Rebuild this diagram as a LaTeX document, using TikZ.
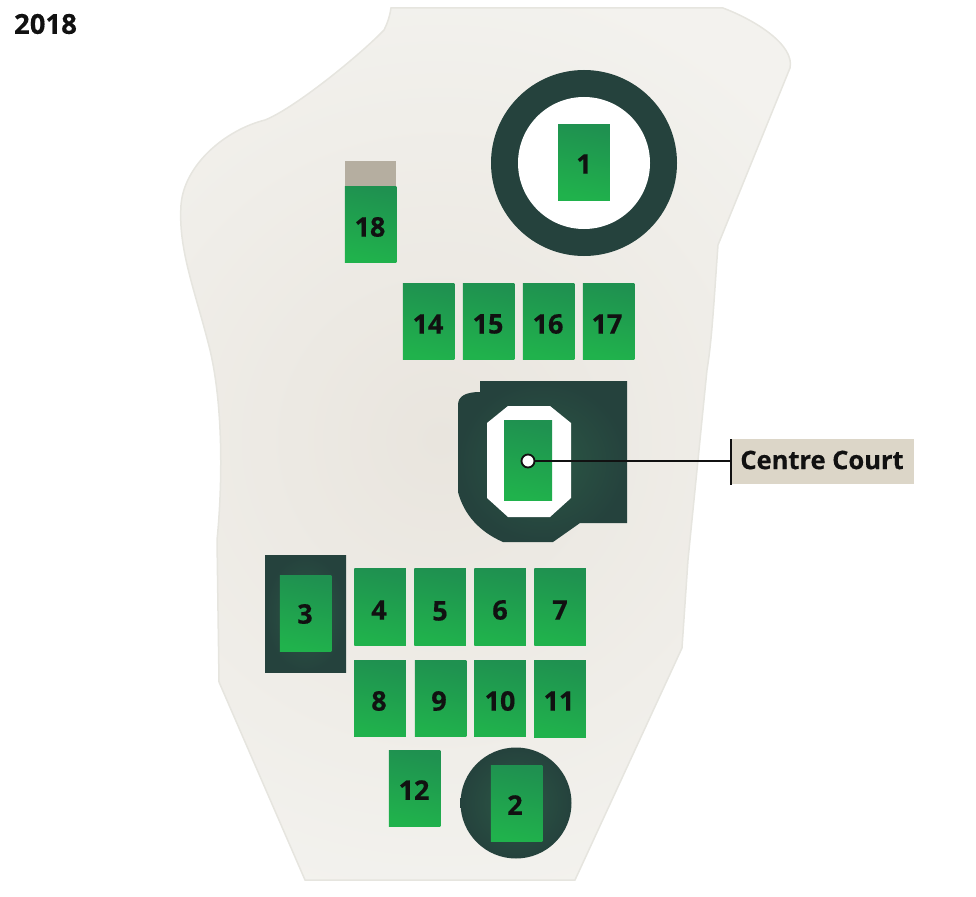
\documentclass[tikz,border=0pt]{standalone}
\usepackage{fontspec}
\setmainfont{Open Sans}[BoldFeatures={FakeBold=0.35}]
\definecolor{landin}{HTML}{E9E5DE}
\definecolor{landout}{HTML}{F3F2EE}
\definecolor{landedge}{HTML}{E6E5DF}
\definecolor{grassd}{HTML}{1F9150}
\definecolor{grassm}{HTML}{1F9E4E}
\definecolor{grassl}{HTML}{20B24C}
\definecolor{darkout}{HTML}{25423D}
\definecolor{darkin}{HTML}{2B5845}
\definecolor{sandcol}{HTML}{DCD6C8}
\definecolor{greycol}{HTML}{B5AEA0}
\definecolor{inkcol}{HTML}{111111}
\tikzset{
  x=1pt,y=-1pt,
  courtbox/.style={draw=none,inner sep=0pt,outer sep=0pt,minimum width=51.5pt,minimum height=76.5pt,
    fill=grassm,shade,top color=grassd,middle color=grassm,bottom color=grassl,shading angle=-12},
  numlab/.style={font=\bfseries\fontsize{27}{27}\selectfont,text=inkcol,inner sep=0pt},
  darkfill/.style={inner color=darkin,outer color=darkout},
  leader/.style={draw=inkcol,line width=2pt},
}
\begin{document}
\begin{tikzpicture}
\useasboundingbox (0,0) rectangle (976,896);
\def\landpath{(391,8) -- (723,8)
  .. controls (755,20) and (795,45) .. (790,68)
  -- (718,245)
  .. controls (714,300) and (712,340) .. (707,370)
  -- (688,560) -- (682,648)
  -- (575,880) -- (305,880) -- (219,682) -- (217,540)
  .. controls (222,490) and (224,410) .. (210,350)
  .. controls (195,290) and (178,250) .. (181,205)
  .. controls (184,165) and (225,130) .. (265,120)
  .. controls (295,108) and (360,55) .. (384,30)
  .. controls (388,22) and (390,15) .. (391,8) -- cycle}
\fill[landout] \landpath;
\begin{scope}
  \clip \landpath;
  \shade[inner color=landin,outer color=landout] (440,440) circle[radius=470];
\end{scope}
\draw[landedge,line width=1.5pt] \landpath;

% Court 1 arena
\fill[darkout] (584,163) circle[radius=93];
\fill[white] (584,163) circle[radius=66];
\node[courtbox] (c1) at (584,162.5) {};
\node[numlab] (n1) at (584,164) {1};

% Court 18
\fill[greycol] (345,161) rectangle (396,186);
\node[courtbox] (c18) at (370.5,224.3) {};
\node[numlab] (n18) at (370,227) {18};

% Row 14-17
\node[courtbox] (c14) at (428.5,321.3) {};
\node[courtbox] (c15) at (488.5,321.3) {};
\node[courtbox] (c16) at (548.5,321.5) {};
\node[courtbox] (c17) at (608.5,321.5) {};
\node[numlab] (n14) at (428,324) {14};
\node[numlab] (n15) at (488,324) {15};
\node[numlab] (n16) at (548,324) {16};
\node[numlab] (n17) at (607,324) {17};

% Centre Court
\shade[darkfill] (480,381) -- (627,381) -- (627,523) -- (580,523) -- (553,542) -- (503,542)
  .. controls (480,532) and (464,515) .. (458,492)
  -- (458,405) .. controls (458,396) and (466,392) .. (480,392) -- cycle;
\fill[white] (508,406) -- (550,406) -- (571,423) -- (571,498) -- (550,517) -- (508,517) -- (487,498) -- (487,423) -- cycle;
\node[courtbox,minimum width=48pt,minimum height=80.5pt] (cc) at (528,460.5) {};

% Label and leader
\node[fill=sandcol,inner sep=0pt,minimum width=183pt,minimum height=45pt,anchor=west] (cclabel) at (731,461.5) {};
\node[font=\bfseries\fontsize{25.5}{25.5}\selectfont,text=inkcol,inner sep=0pt] (cctext) at (822,460) {Centre Court};
\coordinate (bart) at (731,439);
\coordinate (barb) at (731,484.5);
\coordinate (barm) at (731,461);
\draw[leader] (bart) -- (barb);
\node[circle,draw=inkcol,fill=white,line width=1.8pt,minimum size=13pt,inner sep=0pt] (ccdot) at (528,461) {};
\draw[leader] (ccdot) -- (barm);

% Court 3
\shade[darkfill] (265,555) rectangle (346,672);
\node[courtbox] (c3) at (305.5,613.5) {};
\node[numlab] (n3) at (305,614) {3};

% Grid
\node[courtbox] (c4) at (380,607) {};
\node[courtbox] (c5) at (440,607) {};
\node[courtbox] (c6) at (500,607) {};
\node[courtbox] (c7) at (560,607) {};
\node[courtbox] (c8) at (380,698.5) {};
\node[courtbox] (c9) at (440.5,698.5) {};
\node[courtbox] (c10) at (500,698.5) {};
\node[courtbox,minimum height=77.5pt] (c11) at (560,699) {};
\node[numlab] (n4) at (379,610) {4};
\node[numlab] (n5) at (440,611) {5};
\node[numlab] (n6) at (500,610) {6};
\node[numlab] (n7) at (560,610) {7};
\node[numlab] (n8) at (379,701) {8};
\node[numlab] (n9) at (439,701) {9};
\node[numlab] (n10) at (500,701) {10};
\node[numlab] (n11) at (559,701) {11};

% Court 12
\node[courtbox] (c12) at (414.5,788.5) {};
\node[numlab] (n12) at (414,790) {12};

% Court 2
\shade[darkfill] (516,803) circle[radius=55.5];
\node[courtbox] (c2) at (516.5,803.5) {};
\node[numlab] (n2) at (515,805) {2};

% Year
\node[font=\bfseries\fontsize{27.5}{27.5}\selectfont,text=inkcol,inner sep=0pt] (year) at (45.5,24) {2018};
\end{tikzpicture}
\end{document}
